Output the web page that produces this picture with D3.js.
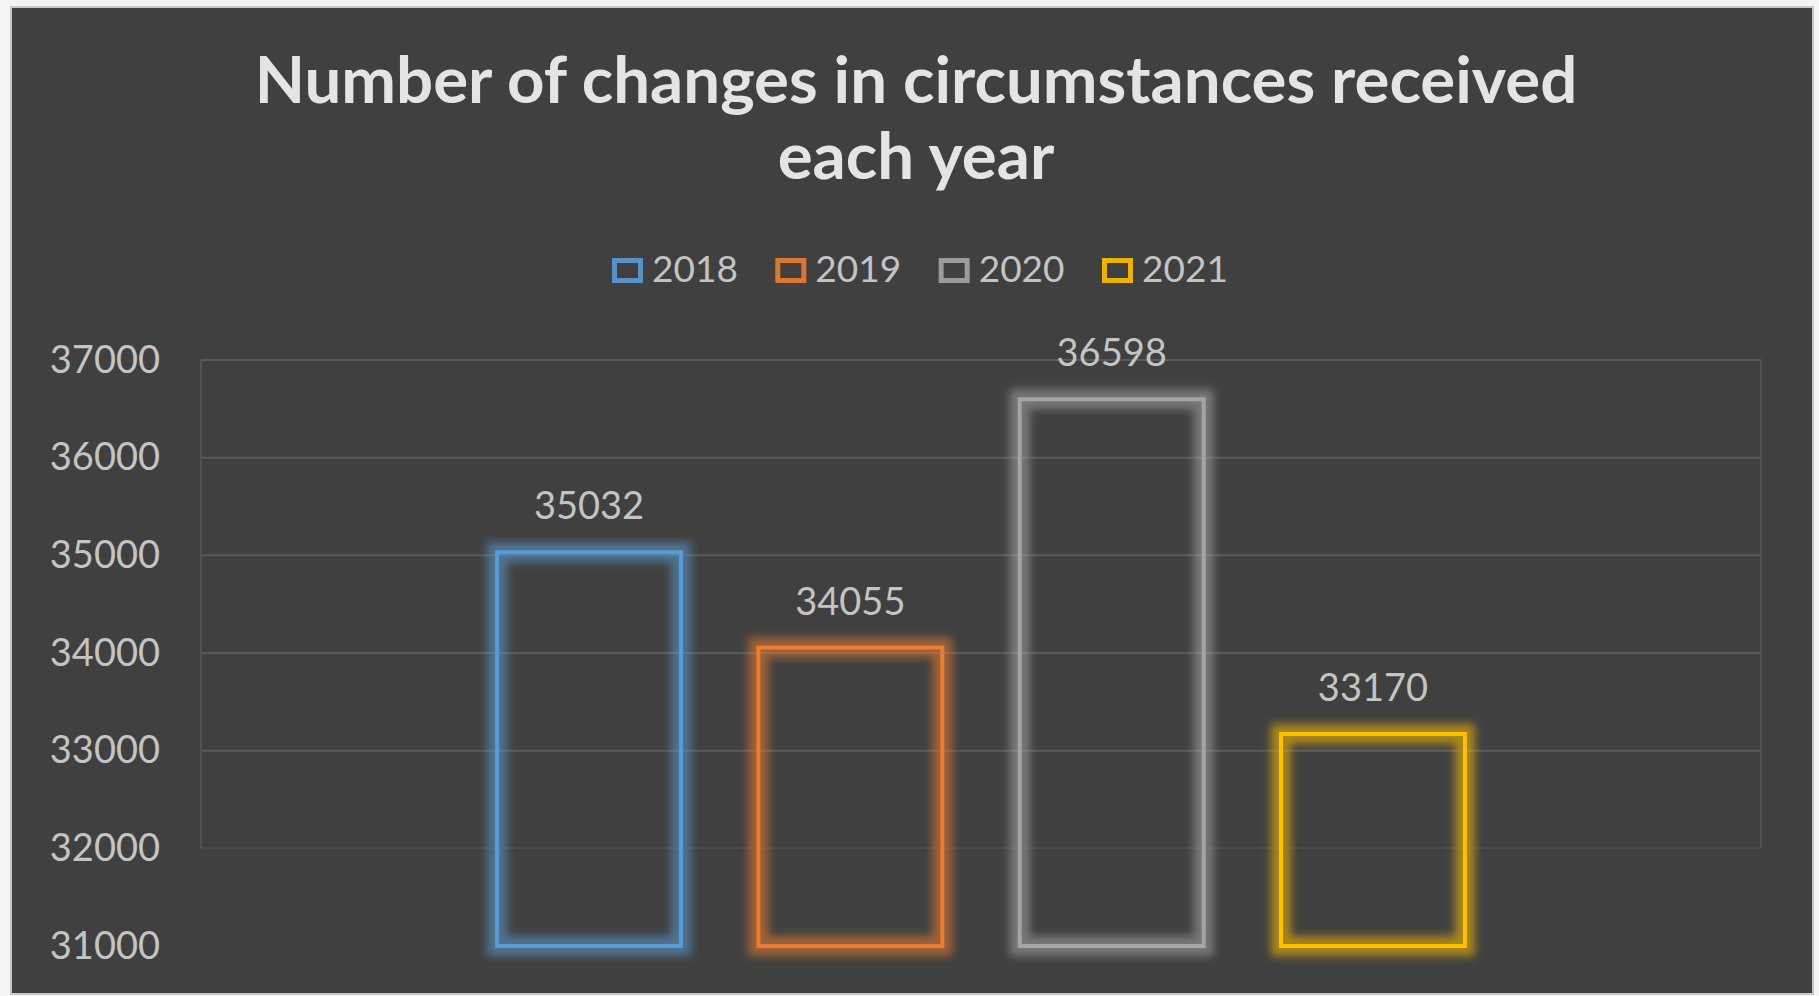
<!DOCTYPE html>
<html>
<head>
<meta charset="utf-8">
<script src="https://cdn.jsdelivr.net/npm/d3@7"></script>
<style>
  html, body { margin: 0; padding: 0; background: #f4f4f4; overflow: hidden; }
  svg { display: block; }
</style>
</head>
<body>
<svg id="chart" width="1819" height="996"></svg>
<script>
// ---- data ----
const categories   = ["Changes in circumstances"];
const seriesNames  = ["2018", "2019", "2020", "2021"];
const seriesValues = [35032, 34055, 36598, 33170];
const seriesColors = ["#5B9BD5", "#ED7D31", "#A5A5A5", "#FFC000"];
const yTickValues  = [31000, 32000, 33000, 34000, 35000, 36000, 37000];
const titleLines   = ["Number of changes in circumstances received", "each year"];

// ---- layout ----
const W = 1819, H = 996;
const frame = { x: 12, y: 8, w: 1800, h: 985 };
const plot  = { left: 201, right: 1761, top: 360, bottom: 946 };
const FONT  = "Lato, 'Open Sans', 'Noto Sans', sans-serif";

const svg = d3.select("#chart");

// glow filter for the outlined columns
const defs = svg.append("defs");
const glow = defs.append("filter").attr("id", "glow")
  .attr("x", "-20%").attr("y", "-20%").attr("width", "140%").attr("height", "140%");
glow.append("feGaussianBlur").attr("in", "SourceGraphic").attr("stdDeviation", 4);

// chart background
svg.append("rect")
  .attr("x", frame.x - 1).attr("y", frame.y - 1)
  .attr("width", frame.w + 2).attr("height", frame.h + 2)
  .attr("fill", "#404040")
  .attr("stroke", "#c9c9c9").attr("stroke-width", 2);

// scales
const y = d3.scaleLinear()
  .domain([d3.min(yTickValues), d3.max(yTickValues)])
  .range([plot.bottom, plot.top]);

const x0 = d3.scaleBand()
  .domain(categories)
  .range([plot.left, plot.right])
  .padding(0);

const x1 = d3.scaleBand()
  .domain(seriesNames)
  .range([0, x0.bandwidth()])
  .paddingInner(0.296)
  .paddingOuter(1.133);

const color = d3.scaleOrdinal().domain(seriesNames).range(seriesColors);

const rows = seriesNames.map((name, i) => ({
  category: categories[0],
  name,
  value: seriesValues[i]
}));

// gridlines
const grid = svg.append("g").attr("class", "grid");
grid.selectAll("line")
  .data(yTickValues.filter(v => v > y.domain()[0]))
  .join("line")
  .attr("x1", plot.left).attr("x2", plot.right)
  .attr("y1", d => y(d)).attr("y2", d => y(d))
  .attr("stroke", d => d === yTickValues[1] ? "#4a4a4a" : "#5a5a5a")
  .attr("stroke-width", 2);

// plot area side edges
grid.selectAll("line.edge")
  .data([plot.left, plot.right])
  .join("line")
  .attr("class", "edge")
  .attr("x1", d => d).attr("x2", d => d)
  .attr("y1", y(yTickValues[yTickValues.length - 1]))
  .attr("y2", y(yTickValues[1]))
  .attr("stroke", "#525252")
  .attr("stroke-width", 2);

// y axis labels via d3.axisLeft
const yAxis = svg.append("g")
  .attr("transform", `translate(${plot.left - 41},0)`)
  .call(d3.axisLeft(y).tickValues(yTickValues).tickSize(0).tickPadding(0).tickFormat(d3.format("d")));
yAxis.select(".domain").remove();
yAxis.selectAll("text")
  .attr("fill", "#c4c4c4")
  .style("font-family", FONT)
  .style("font-size", "38px");

// columns
const bars = svg.append("g").attr("class", "bars");
const barG = bars.selectAll("g.bar")
  .data(rows)
  .join("g")
  .attr("class", "bar")
  .attr("transform", d => `translate(${x0(d.category)},0)`);

// soft halo
barG.append("rect")
  .attr("x", d => x1(d.name))
  .attr("y", d => y(d.value))
  .attr("width", x1.bandwidth())
  .attr("height", d => y.range()[0] - y(d.value))
  .attr("fill", "none")
  .attr("stroke", d => color(d.name))
  .attr("stroke-opacity", 0.55)
  .attr("stroke-width", 20)
  .attr("filter", "url(#glow)");

// crisp outline
barG.append("rect")
  .attr("x", d => x1(d.name))
  .attr("y", d => y(d.value))
  .attr("width", x1.bandwidth())
  .attr("height", d => y.range()[0] - y(d.value))
  .attr("fill", "none")
  .attr("stroke", d => color(d.name))
  .attr("stroke-width", 4);

// value labels
barG.append("text")
  .attr("x", d => x1(d.name) + x1.bandwidth() / 2)
  .attr("y", d => y(d.value) - 33)
  .attr("text-anchor", "middle")
  .attr("fill", "#c4c4c4")
  .style("font-family", FONT)
  .style("font-size", "38px")
  .text(d => d.value);

// title
const title = svg.append("text")
  .attr("text-anchor", "middle")
  .attr("fill", "#e4e4e4")
  .style("font-family", FONT)
  .style("font-weight", "bold")
  .style("font-size", "60px");
title.selectAll("tspan")
  .data(titleLines)
  .join("tspan")
  .attr("x", 916)
  .attr("y", (d, i) => 103 + i * 76)
  .text(d => d);

// fit the first title line to its width
const firstLine = title.select("tspan").node();
const targetW = 1323;
const measured = firstLine.getComputedTextLength();
title.style("font-size", (60 * targetW / measured).toFixed(2) + "px");

// legend
const legendX = d3.scalePoint().domain(seriesNames).range([612, 1102]);
const legend = svg.append("g").attr("class", "legend");
const item = legend.selectAll("g")
  .data(seriesNames)
  .join("g")
  .attr("transform", d => `translate(${legendX(d)},258)`);
item.append("rect")
  .attr("x", 2.5).attr("y", 2.5)
  .attr("width", 26).attr("height", 20)
  .attr("fill", "none")
  .attr("stroke", d => color(d))
  .attr("stroke-width", 5)
  .attr("stroke-opacity", 0.9);
item.append("text")
  .attr("x", 40)
  .attr("y", 24)
  .attr("fill", "#c4c4c4")
  .style("font-family", FONT)
  .style("font-size", "37px")
  .text(d => d);
</script>
</body>
</html>
